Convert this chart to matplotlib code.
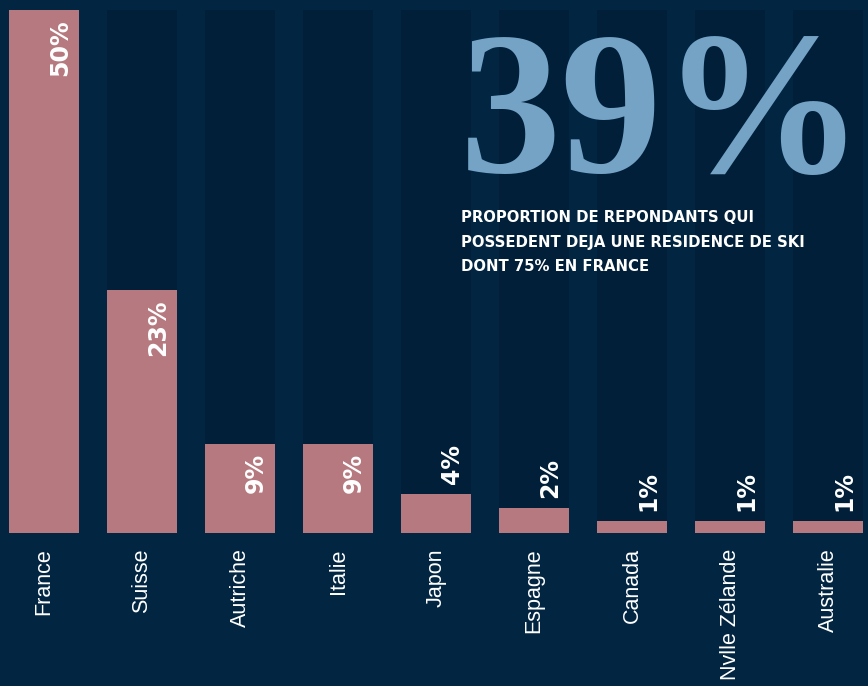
import numpy as np
import matplotlib
matplotlib.use("Agg")
import matplotlib.pyplot as plt

# data
pays = ["France", "Suisse", "Autriche", "Italie", "Japon", "Espagne",
        "Canada", "Nvlle Zélande", "Australie"]
hauteurs = [50, 23.2, 8.5, 8.5, 3.7, 2.4, 1.15, 1.15, 1.15]
etiquettes = ["50%", "23%", "9%", "9%", "4%", "2%", "1%", "1%", "1%"]

fond = "#022542"
bande = "#011f39"
rose = "#b5797f"
bleu = "#74a3c6"

W, H = 868, 686
fig = plt.figure(figsize=(W / 100, H / 100), dpi=100, facecolor=fond)

# axes spans the bar area: baseline at y=533px, top at y=10px
ax = fig.add_axes([0, (H - 533) / H, 1, 523 / H])
ax.set_facecolor(fond)
pas = 98.0
x = np.arange(len(pays))
ax.set_xlim(-44 / pas, (W - 44) / pas)
ax.set_ylim(0, 50)

larg = 70 / pas
ax.bar(x, [50] * len(x), width=larg, color=bande, zorder=1)
ax.bar(x, hauteurs, width=larg, color=rose, zorder=2)

px_per_unit = 523 / 50
for xi, h, lab in zip(x, hauteurs, etiquettes):
    dx = 16 / pas
    if h > 6:
        ax.text(xi + dx, h - 9 / px_per_unit, lab, rotation=90, ha="center",
                va="top", color="white", fontsize=17, fontweight="bold",
                family="DejaVu Sans", zorder=3)
    else:
        ax.text(xi + dx, h + 10 / px_per_unit, lab, rotation=90, ha="center",
                va="bottom", color="white", fontsize=17, fontweight="bold",
                family="DejaVu Sans", zorder=3)

ax.set_xticks(x)
ax.set_xticklabels(pays, rotation=90, color="white", fontsize=15.5,
                   family="Liberation Sans", va="top")
ax.tick_params(axis="x", length=0, pad=11)
ax.set_yticks([])
for s in ax.spines.values():
    s.set_visible(False)

fig.text(460 / W, 1 - 172 / H, "39%", color=bleu, fontsize=146,
         fontweight="bold", family="Liberation Serif", ha="left",
         va="baseline")

sous_titre = ["PROPORTION DE REPONDANTS QUI",
              "POSSEDENT DEJA UNE RESIDENCE DE SKI",
              "DONT 75% EN FRANCE"]
for i, ligne in enumerate(sous_titre):
    fig.text(461 / W, 1 - (222 + 24.5 * i) / H, ligne, color="white",
             fontsize=10.7, fontweight="bold", family="DejaVu Sans",
             ha="left", va="baseline")

fig.savefig("out.png", dpi=100, facecolor=fond)
